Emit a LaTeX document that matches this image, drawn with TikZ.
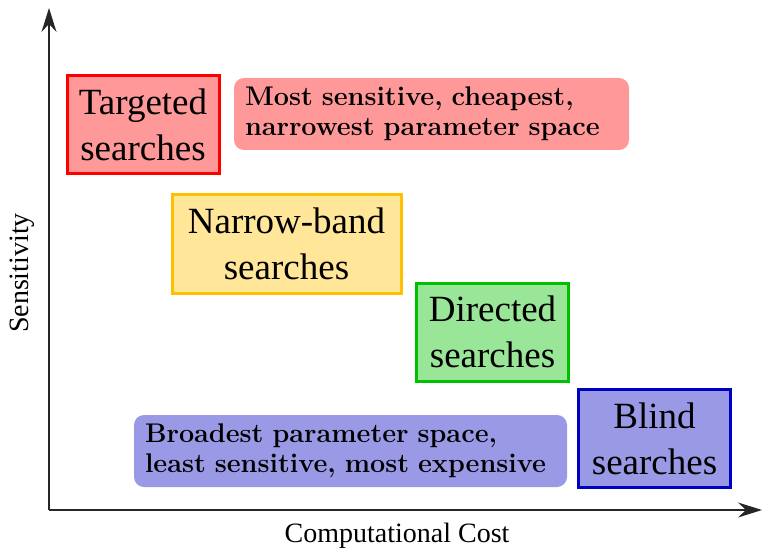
\documentclass[tikz,border=0pt]{standalone}
\usepackage{fontspec}
\usepackage{xcolor}
\usepackage{tikz}
\usetikzlibrary{arrows.meta,positioning}
\newfontfamily\timesfont{Liberation Serif}
\definecolor{redline}{HTML}{FF0000}
\definecolor{redfill}{HTML}{FF9999}
\definecolor{yelline}{HTML}{FFC000}
\definecolor{yelfill}{HTML}{FFE699}
\definecolor{grnline}{HTML}{00C000}
\definecolor{grnfill}{HTML}{99E699}
\definecolor{bluline}{HTML}{0000C0}
\definecolor{blufill}{HTML}{9999E6}
\tikzset{
  axis/.style={-{Stealth[length=12pt,width=7.5pt,inset=4pt]},line width=0.6pt,black!85},
  search/.style={line width=1.5pt,align=center,inner sep=0pt,minimum width=76pt,minimum height=49pt,
    font=\timesfont\fontsize{18.5}{23}\selectfont},
  note/.style={rounded corners=5pt,align=left,inner xsep=5.5pt,inner ysep=0pt,minimum height=36pt,
    font=\bfseries\fontsize{13.5}{15}\selectfont},
  axlabel/.style={font=\timesfont\fontsize{14}{16}\selectfont}
}
\begin{document}
\begin{tikzpicture}[x=0.5pt,y=-0.5pt]
\useasboundingbox (0,0) rectangle (763,550);
% axes
\coordinate (origin) at (49,510);
\coordinate (ytop) at (49,8);
\coordinate (xend) at (762,510);
\draw[axis] (origin)--(ytop);
\draw[axis] (origin)--(xend);
\node[axlabel,rotate=90] (ylab) at (22,273) {Sensitivity};
\node[axlabel] (xlab) at (397,536) {Computational Cost};
% search classes
\node[search,draw=redline,fill=redfill] (targeted) at (143,125) {Targeted\\searches};
\node[search,draw=yelline,fill=yelfill,minimum width=114.5pt] (narrow) at (286.5,244) {Narrow-band\\searches};
\node[search,draw=grnline,fill=grnfill] (directed) at (492.5,332) {Directed\\searches};
\node[search,draw=bluline,fill=blufill] (blind) at (654.5,438.5) {Blind\\searches};
% comments on the two extremes
\node[note,fill=redfill,text width=186.5pt] (best) at (431.5,114) {Most sensitive, cheapest,\\narrowest parameter space};
\node[note,fill=blufill,text width=205.5pt] (worst) at (350.5,451) {Broadest parameter space,\\least sensitive, most expensive};
\end{tikzpicture}
\end{document}
